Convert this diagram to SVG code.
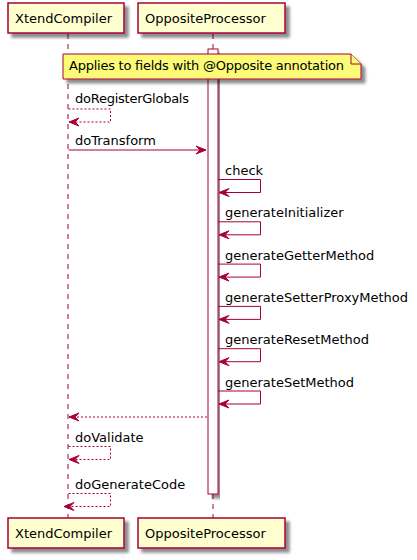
<svg xmlns="http://www.w3.org/2000/svg" width="417" height="560" viewBox="0 0 417 560">
  <style>
    .box { fill: #FEFECE; stroke: #A80036; stroke-width: 1.5; }
    .life { stroke: #A80036; stroke-width: 1; stroke-dasharray: 5,5; fill: none; }
    .msg { stroke: #A80036; stroke-width: 1; fill: none; }
    .ret { stroke: #A80036; stroke-width: 1; fill: none; stroke-dasharray: 2,2; }
    .head { fill: #A80036; stroke: #A80036; stroke-width: 1; }
    .act { fill: #FFFFFF; stroke: #A80036; stroke-width: 1; }
    .note { fill: #FBFB77; stroke: #A80036; stroke-width: 1; }
    text { font-family: "DejaVu Sans", "Liberation Sans", sans-serif; font-size: 13px; fill: #000000; }
  </style>
  <defs>
    <filter id="shadow" x="-10%" y="-10%" width="130%" height="150%">
      <feGaussianBlur in="SourceAlpha" stdDeviation="1.7" result="blur"/>
      <feOffset in="blur" dx="4" dy="4" result="off"/>
      <feComponentTransfer in="off" result="soft">
        <feFuncA type="linear" slope="0.45"/>
      </feComponentTransfer>
      <feMerge>
        <feMergeNode in="soft"/>
        <feMergeNode in="SourceGraphic"/>
      </feMerge>
    </filter>
  </defs>

  <rect width="417" height="560" fill="#FFFFFF"/>

  <!-- lifelines -->
  <g id="lifelines">
    <line class="life" x1="68" y1="34" x2="68" y2="518"/>
    <line class="life" x1="213" y1="34" x2="213" y2="518"/>
  </g>

  <!-- participants, top and bottom -->
  <g id="XtendCompiler">
    <rect class="box" x="8" y="3" width="116" height="30" filter="url(#shadow)"/>
    <text x="15" y="22.5">XtendCompiler</text>
    <rect class="box" x="8" y="518" width="116" height="30" filter="url(#shadow)"/>
    <text x="15" y="537.5">XtendCompiler</text>
  </g>
  <g id="OppositeProcessor">
    <rect class="box" x="138" y="3" width="147" height="30" filter="url(#shadow)"/>
    <text x="145" y="22.5">OppositeProcessor</text>
    <rect class="box" x="138" y="518" width="147" height="30" filter="url(#shadow)"/>
    <text x="145" y="537.5">OppositeProcessor</text>
  </g>

  <!-- activation of OppositeProcessor -->
  <g id="activation">
    <rect class="act" x="208" y="49" width="10" height="445" filter="url(#shadow)"/>
  </g>

  <!-- note -->
  <g id="note">
    <path class="note" d="M63,54 L63,79 L361,79 L361,64 L351,54 Z" filter="url(#shadow)"/>
    <path class="note" d="M351,54 L351,64 L361,64"/>
    <text x="69" y="69.5" textLength="275">Applies to fields with @Opposite annotation</text>
  </g>

  <!-- messages -->
  <g id="connectors">
    <!-- doRegisterGlobals (self, dotted) -->
    <polyline class="ret" points="68.5,109 110.5,109 110.5,122 69,122"/>
    <polygon class="head" points="79,118 69,122 79,126 75,122"/>
    <text x="75" y="103" textLength="114">doRegisterGlobals</text>

    <!-- doTransform -->
    <line class="msg" x1="68.5" y1="150" x2="206" y2="150"/>
    <polygon class="head" points="196,146 206,150 196,154 200,150"/>
    <text x="75" y="145">doTransform</text>

    <!-- self calls on OppositeProcessor -->
    <polyline class="msg" points="218,179.5 260.5,179.5 260.5,192.5 219,192.5"/>
    <polygon class="head" points="229,188.5 219,192.5 229,196.5 225,192.5"/>
    <text x="225" y="175">check</text>

    <polyline class="msg" points="218,221.8 260.5,221.8 260.5,234.8 219,234.8"/>
    <polygon class="head" points="229,230.8 219,234.8 229,238.8 225,234.8"/>
    <text x="225" y="217.3">generateInitializer</text>

    <polyline class="msg" points="218,264.1 260.5,264.1 260.5,277.1 219,277.1"/>
    <polygon class="head" points="229,273.1 219,277.1 229,281.1 225,277.1"/>
    <text x="225" y="259.6">generateGetterMethod</text>

    <polyline class="msg" points="218,306.4 260.5,306.4 260.5,319.4 219,319.4"/>
    <polygon class="head" points="229,315.4 219,319.4 229,323.4 225,319.4"/>
    <text x="225" y="301.9">generateSetterProxyMethod</text>

    <polyline class="msg" points="218,348.7 260.5,348.7 260.5,361.7 219,361.7"/>
    <polygon class="head" points="229,357.7 219,361.7 229,365.7 225,361.7"/>
    <text x="225" y="344.2">generateResetMethod</text>

    <polyline class="msg" points="218,391 260.5,391 260.5,404 219,404"/>
    <polygon class="head" points="229,400 219,404 229,408 225,404"/>
    <text x="225" y="386.5">generateSetMethod</text>

    <!-- return to XtendCompiler -->
    <line class="ret" x1="207" y1="417" x2="69" y2="417"/>
    <polygon class="head" points="79,413 69,417 79,421 75,417"/>

    <!-- doValidate (self, dotted) -->
    <polyline class="ret" points="68.5,446.5 110.5,446.5 110.5,459.5 69,459.5"/>
    <polygon class="head" points="79,455.5 69,459.5 79,463.5 75,459.5"/>
    <text x="75" y="442">doValidate</text>

    <!-- doGenerateCode (self, dotted) -->
    <polyline class="ret" points="68.5,493.5 110.5,493.5 110.5,506.5 64,506.5"/>
    <polygon class="head" points="74,502.5 64,506.5 74,510.5 70,506.5"/>
    <text x="75" y="489">doGenerateCode</text>
  </g>
</svg>
